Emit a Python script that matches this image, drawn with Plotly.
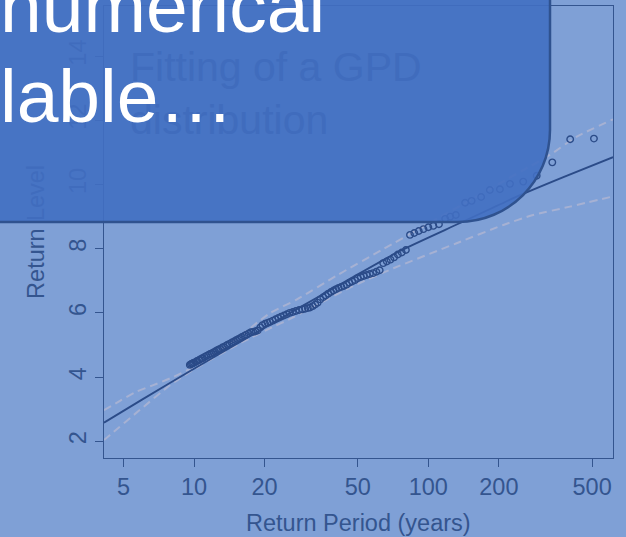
import plotly.graph_objects as go

# Observed exceedances: empirical return period (years) and level
obs_period = [9.6, 9.7, 9.8, 9.9, 10.0, 10.2, 10.3, 10.5, 10.6, 10.8, 10.9, 11.1, 11.3, 11.5,
              11.7, 11.9, 12.1, 12.3, 12.5, 12.7, 12.9, 13.2, 13.4, 13.7, 13.9, 14.2, 14.5,
              14.8, 15.1, 15.4, 15.7, 16.0, 16.4, 16.7, 17.1, 17.5, 17.9, 18.3, 18.7, 19.2,
              19.6, 20.1, 20.6, 21.1, 21.7, 22.3, 22.9, 23.5, 24.2, 24.9, 25.6, 26.4, 27.2,
              28.1, 29.0, 29.8, 30.6, 31.3, 32.1, 32.9, 33.7, 34.6, 35.6, 36.5, 37.4, 38.4,
              39.4, 40.4, 41.4, 42.5, 43.6, 44.8, 46.0, 47.3, 48.6, 50.0, 51.5, 53.0, 54.6,
              56.3, 58.1, 60.0, 62.0, 64.2, 66.5, 68.9, 71.4, 74.1, 77.0, 80.2, 83.5, 87.1,
              91.0, 95.3, 100.0, 105.0, 111.0, 118.0, 124.0, 131.0, 143.5, 153.0, 168.0,
              183.0, 202.0, 223.0, 254.0, 290.0, 338.0, 403.0, 509.0]
obs_level = [4.38, 4.40, 4.42, 4.43, 4.45, 4.48, 4.50, 4.53, 4.55, 4.58, 4.59, 4.63, 4.66, 4.69,
             4.72, 4.74, 4.77, 4.80, 4.83, 4.85, 4.88, 4.92, 4.94, 4.98, 5.01, 5.04, 5.08,
             5.11, 5.15, 5.18, 5.21, 5.25, 5.29, 5.32, 5.36, 5.40, 5.41, 5.43, 5.45, 5.55,
             5.62, 5.66, 5.69, 5.72, 5.76, 5.80, 5.84, 5.88, 5.92, 5.96, 6.00, 6.03, 6.06,
             6.09, 6.11, 6.13, 6.15, 6.17, 6.21, 6.26, 6.32, 6.42, 6.49, 6.54, 6.60, 6.65,
             6.70, 6.74, 6.78, 6.81, 6.84, 6.88, 6.94, 6.98, 7.02, 7.08, 7.12, 7.15, 7.18,
             7.21, 7.24, 7.28, 7.33, 7.55, 7.60, 7.66, 7.73, 7.82, 7.88, 7.96, 8.43, 8.49,
             8.55, 8.61, 8.67, 8.71, 8.76, 8.93, 9.00, 9.05, 9.43, 9.49, 9.61,
             9.83, 9.85, 10.02, 10.09, 10.27, 10.69, 11.41, 11.43]

# Fitted GPD return level curve
fit_period = [4.13, 6, 10, 16, 28.3, 46.3, 75.7, 136.6, 238, 377, 614]
fit_level = [2.58, 3.30, 4.26, 5.13, 6.17, 7.06, 7.93, 8.80, 9.62, 10.23, 10.85]

# Confidence bounds
upper_period = [4.13, 4.83, 5.69, 6.7, 7.9, 10, 14, 21.1, 27.5, 41, 63.2, 100, 150, 200, 250,
                330, 430, 614]
upper_level = [2.97, 3.26, 3.55, 3.75, 3.96, 4.32, 5.0, 5.99, 6.42, 7.18, 7.96, 8.78, 9.5,
               10.02, 10.42, 10.92, 11.49, 12.03]
lower_period = [4.13, 4.38, 5.88, 7.9, 8.71, 10, 15.7, 21.8, 25.2, 47.9, 71, 132, 209, 280,
                402, 614]
lower_level = [2.04, 2.2, 2.98, 3.75, 3.96, 4.24, 5.05, 5.57, 5.78, 6.84, 7.39, 8.17, 8.74,
               9.05, 9.31, 9.63]

x_ticks = [5, 10, 20, 50, 100, 200, 500]
y_ticks = [2, 4, 6, 8, 10, 12, 14]

BG = "#7FA0D6"
INK = "#34558F"
NAVY = "#2B4B88"
DASH = "#A6B1D3"
FONT = "Liberation Sans, Arial, sans-serif"

W, H = 626, 537
ML, MR, MT, MB = 104, 13, 6, 79
PW, PH = W - ML - MR, H - MT - MB


def px(x):
    return (x - ML) / PW


def py(y):
    return (H - MB - y) / PH


fig = go.Figure()
for per, lev in ((upper_period, upper_level), (lower_period, lower_level)):
    fig.add_trace(go.Scatter(x=per, y=lev, mode="lines",
                             line=dict(color=DASH, width=2, dash="8px,5px", shape="spline",
                                       smoothing=0.6), hoverinfo="skip"))
fig.add_trace(go.Scatter(x=obs_period, y=obs_level, mode="markers",
                         marker=dict(symbol="circle-open", size=6.5, color=NAVY,
                                     line=dict(width=1.4, color=NAVY))))
fig.add_trace(go.Scatter(x=fit_period, y=fit_level, mode="lines",
                         line=dict(color=NAVY, width=1.9, shape="spline", smoothing=0.6)))

fig.update_layout(
    width=W, height=H, margin=dict(l=ML, r=MR, t=MT, b=MB),
    paper_bgcolor=BG, plot_bgcolor=BG, showlegend=False,
    font=dict(family=FONT, color=INK),
)
fig.update_xaxes(type="log", range=[0.6159, 2.788], tickvals=x_ticks,
                 ticktext=[str(v) for v in x_ticks], ticks="outside", ticklen=8,
                 tickwidth=1, tickcolor=INK, showline=True, mirror=True, linecolor=INK,
                 linewidth=1, showgrid=False, zeroline=False,
                 tickfont=dict(size=23.5, color=INK))
fig.update_yaxes(range=[1.48, 15.56], tickvals=y_ticks, ticks="outside", ticklen=8,
                 tickwidth=1, tickcolor=INK, showline=True, mirror=True, linecolor=INK,
                 linewidth=1, showgrid=False, zeroline=False, tickangle=-90,
                 tickfont=dict(size=23.5, color=INK))

# Rounded callout panel in the upper-left corner
R = 92
k = 0.5523 * R
x_r, y_b = 550, 222
panel = (f"M {px(-30)},{py(-30)} L {px(x_r)},{py(-30)} L {px(x_r)},{py(y_b - R)} "
         f"C {px(x_r)},{py(y_b - R + k)} {px(x_r - R + k)},{py(y_b)} {px(x_r - R)},{py(y_b)} "
         f"L {px(-30)},{py(y_b)} Z")
fig.add_shape(type="path", path=panel, xref="paper", yref="paper", layer="above",
              fillcolor="#416FC2", opacity=0.9, line=dict(width=0))
fig.add_shape(type="path", path=panel, xref="paper", yref="paper", layer="above",
              fillcolor="rgba(0,0,0,0)", line=dict(color="#2F528F", width=2.5))

SEEN = "#406CBD"
annotations = [
    dict(text="Return Period (years)", x=px(358.5), y=py(523), xanchor="center",
         yanchor="middle", font=dict(size=23.5, color=INK)),
    dict(text="Return", x=px(36.7), y=py(263.2), textangle=-90, xanchor="center",
         yanchor="middle", font=dict(size=23.5, color=INK)),
    dict(text="Level", x=px(36.7), y=py(193.4), textangle=-90, xanchor="center",
         yanchor="middle", font=dict(size=23.5, color=SEEN)),
    dict(text="Fitting of a GPD<br>distribution", x=px(128), y=py(94), xanchor="left",
         yanchor="middle", align="left", font=dict(size=41, color=SEEN)),
    dict(text="numerical", x=px(-2), y=py(6), xanchor="left", yanchor="middle",
         font=dict(size=75, color="white")),
    dict(text="lable…", x=px(-2), y=py(96), xanchor="left", yanchor="middle",
         font=dict(size=75, color="white")),
]
for a in annotations:
    fig.add_annotation(xref="paper", yref="paper", showarrow=False, **a)

fig.write_html("out.html")
